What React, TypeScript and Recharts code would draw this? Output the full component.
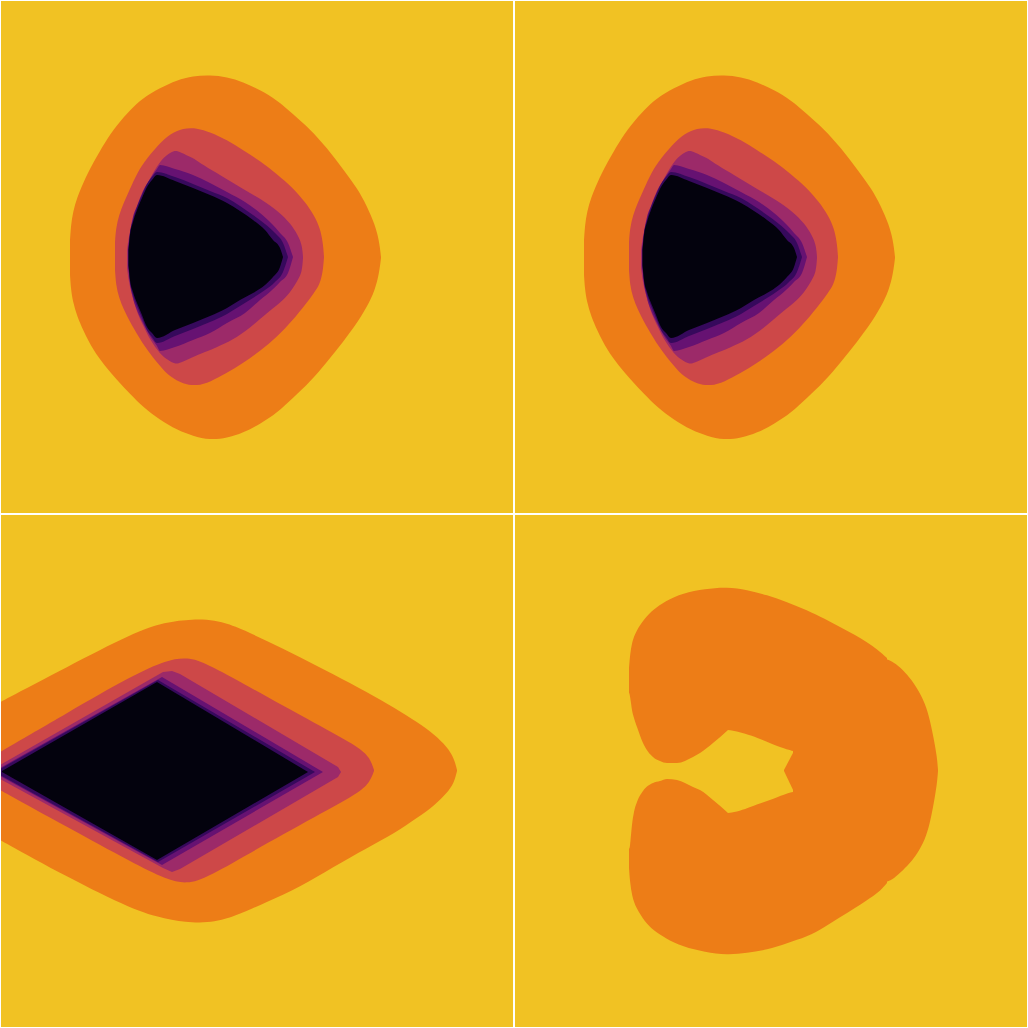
import React from 'react';
import { ComposedChart, Area, XAxis, YAxis } from 'recharts';

// Colours of the filled contour levels (outer to inner)
const YELLOW = '#F1C223';
const ORANGE = '#ED7D17';
const RED = '#CD4848';
const MAGENTA = '#9C2A69';
const PURPLE = '#661272';
const DARK = '#36095C';
const BLACK = '#03020D';

type Row = [number, number, number]; // x, upper y, lower y

// ---- Top panels (both show the same field) ----
const tlOrange: Row[] = [
  [70, 240, 275], [71, 225, 290], [73, 212, 302], [77, 198, 316], [83, 183, 330], [93, 163, 350],
  [105, 142, 366], [117, 125, 380], [130, 110, 394], [143, 98, 407], [160, 88, 420], [177, 80, 430],
  [193, 76, 436], [210, 75, 440], [227, 77, 438], [243, 82, 433], [260, 90, 424], [277, 100, 413],
  [293, 114, 398], [310, 129, 382], [327, 148, 362], [343, 169, 342], [357, 188, 323], [367, 206, 307],
  [375, 225, 290], [379, 240, 274], [381, 257, 258],
];
const tlRed: Row[] = [
  [115, 242, 270], [116, 228, 285], [119, 215, 298], [124, 202, 310], [130, 189, 322], [137, 173, 334],
  [147, 158, 350], [160, 143, 366], [170, 134, 377], [183, 128, 384], [197, 128, 386], [210, 132, 382],
  [227, 140, 373], [243, 150, 363], [260, 161, 351], [277, 174, 337], [293, 188, 320], [305, 202, 305],
  [314, 215, 293], [320, 228, 284], [323, 243, 271], [324, 257, 257],
];
const tlMagenta: Row[] = [
  [127, 250, 268], [129, 235, 283], [132, 225, 295], [137, 208, 313], [143, 193, 325], [150, 178, 340],
  [160, 161, 354], [168, 154, 360], [175, 150, 364], [180, 152, 363], [193, 158, 357], [200, 163, 354],
  [215, 172, 348], [233, 183, 340], [250, 193, 328], [267, 203, 313], [280, 213, 303], [290, 223, 293],
  [298, 235, 280], [302, 245, 272], [303, 257, 258],
];
const tlPurple: Row[] = [
  [128, 252, 263], [130, 233, 283], [133, 217, 298], [137, 206, 310], [143, 191, 323], [150, 179, 336],
  [157, 169, 346], [160, 165, 351], [175, 169, 347], [193, 175, 340], [210, 183, 333], [227, 192, 323],
  [245, 202, 313], [260, 213, 300], [272, 224, 290], [280, 233, 282], [288, 243, 273], [293, 257, 257],
];
const tlDark: Row[] = [
  [128.3, 250, 266], [130, 233, 282], [133, 220, 295], [137, 207, 306], [142, 195, 318], [147, 184, 330],
  [152, 177, 337], [157, 172, 343], [175, 177, 336], [193, 184, 329], [210, 191, 322], [227, 198, 314],
  [240, 206, 306], [253, 215, 298], [265, 224, 290], [275, 233, 282], [283, 243, 272], [288, 257, 257],
];
const tlBlack: Row[] = [
  [128.5, 250, 265], [130, 235, 280], [133, 222, 292], [137, 210, 303], [142, 198, 315], [147, 187, 327],
  [152, 180, 333], [157, 175, 338], [175, 181, 330], [193, 188, 323], [210, 195, 316], [227, 203, 308],
  [240, 211, 300], [253, 220, 293], [265, 230, 285], [273, 240, 277], [280, 248, 267], [283, 257, 257],
];

// ---- Bottom-left panel ----
const blOrange: Row[] = [
  [-5, 705, 837], [0, 702, 840], [67, 667, 877], [133, 633, 910], [165, 622, 919], [193, 619, 923],
  [215, 620, 922], [233, 625, 917], [267, 641, 902], [300, 657, 887], [333, 674, 867], [367, 692, 848],
  [395, 708, 833], [417, 722, 818], [435, 735, 805], [447, 747, 793], [454, 758, 783], [457, 770, 771],
];
const blRed: Row[] = [
  [-5, 755, 787], [0, 752, 790], [67, 713, 827], [133, 675, 863], [167, 660, 880], [187, 657, 884],
  [207, 663, 878], [267, 697, 843], [333, 733, 807], [360, 748, 792], [370, 758, 782], [374, 770, 771],
];
const blMagenta: Row[] = [
  [-5, 767, 777], [0, 765, 779], [163, 672, 868], [172, 671, 872], [180, 674, 869], [338, 767, 777], [341, 772, 772],
];
const blPurple: Row[] = [[-5, 771, 773], [0, 768, 776], [162, 677, 865], [323, 772, 772]];
const blDark: Row[] = [[-3, 771, 773], [0, 769, 775], [158, 680, 862], [315, 772, 772]];
const blBlack: Row[] = [[2, 771, 772], [157, 682, 860], [308, 772, 772]];

// ---- Bottom-right panel ----
const brOrange: Row[] = [
  [629, 668, 868], [630, 655, 882], [632, 642, 896], [636, 631, 908], [645, 618, 922], [653, 610, 930],
  [665, 601, 938], [683, 593, 947], [705, 589, 952], [727, 587, 955], [747, 590, 953], [767, 595, 950],
  [787, 602, 943], [807, 610, 937], [825, 619, 927], [840, 627, 917], [855, 635, 908], [867, 642, 900],
  [878, 650, 893], [887, 658, 883],
];
const brLobe: Row[] = [
  [885, 659, 882], [892, 661, 880], [900, 667, 873], [910, 678, 863], [917, 688, 854], [925, 703, 840],
  [930, 720, 823], [934, 740, 802], [937, 757, 784], [938, 770, 771],
];
const brGapLeft: Row[] = [
  [626, 688, 852], [629.5, 694, 848], [631, 703, 835], [632, 710, 825], [634, 718, 812], [637, 727, 802],
  [643, 743, 791], [653, 757, 783], [660, 761, 781], [667, 763, 779], [677, 763, 780], [693, 757, 787],
  [700, 753, 790], [713, 743, 800], [728, 730, 813],
];
const brGapRight: Row[] = [
  [728, 730, 813], [740, 732, 811], [750, 735, 807], [770, 743, 800], [785, 749, 794], [793, 751, 792],
];
const brSpike: Row[] = [[784, 770, 771], [794, 751, 792]];

type Layer = { rows: Row[]; color: string; curve: 'monotone' | 'linear' | 'basis' };

const topLayers: Layer[] = [
  { rows: tlOrange, color: ORANGE, curve: 'basis' },
  { rows: tlRed, color: RED, curve: 'basis' },
  { rows: tlMagenta, color: MAGENTA, curve: 'basis' },
  { rows: tlPurple, color: PURPLE, curve: 'monotone' },
  { rows: tlDark, color: DARK, curve: 'monotone' },
  { rows: tlBlack, color: BLACK, curve: 'monotone' },
];
const blLayers: Layer[] = [
  { rows: blOrange, color: ORANGE, curve: 'basis' },
  { rows: blRed, color: RED, curve: 'basis' },
  { rows: blMagenta, color: MAGENTA, curve: 'linear' },
  { rows: blPurple, color: PURPLE, curve: 'linear' },
  { rows: blDark, color: DARK, curve: 'linear' },
  { rows: blBlack, color: BLACK, curve: 'linear' },
];
const brLayers: Layer[] = [
  { rows: brOrange, color: ORANGE, curve: 'basis' },
  { rows: brLobe, color: ORANGE, curve: 'basis' },
  { rows: brGapLeft, color: YELLOW, curve: 'monotone' },
  { rows: brGapRight, color: YELLOW, curve: 'basis' },
  { rows: brSpike, color: ORANGE, curve: 'linear' },
];

const toData = (rows: Row[]) => rows.map(([x, a, b]) => ({ x, r: [a, b] }));

const SIZE = 512;

function Panel(props: { left: number; top: number; xDomain: [number, number]; yDomain: [number, number]; layers: Layer[] }) {
  const { left, top, xDomain, yDomain, layers } = props;
  return (
    <div style={{ position: 'absolute', left, top, width: SIZE, height: SIZE, background: YELLOW, overflow: 'hidden' }}>
      <ComposedChart width={SIZE} height={SIZE} margin={{ top: 0, right: 0, bottom: 0, left: 0 }}>
        <XAxis type="number" dataKey="x" domain={xDomain} hide allowDataOverflow />
        <YAxis type="number" domain={yDomain} reversed hide allowDataOverflow />
        {layers.map((l, i) => (
          <Area
            key={i}
            data={toData(l.rows)}
            dataKey="r"
            type={l.curve}
            fill={l.color}
            fillOpacity={1}
            stroke="none"
            dot={false}
            activeDot={false}
            isAnimationActive={false}
          />
        ))}
      </ComposedChart>
    </div>
  );
}

export default function App() {
  return (
    <div style={{ position: 'absolute', left: 0, top: 0, width: 1028, height: 1028, background: '#ffffff' }}>
      <Panel left={1} top={1} xDomain={[1, 513]} yDomain={[1, 513]} layers={topLayers} />
      <Panel left={515} top={1} xDomain={[1, 513]} yDomain={[1, 513]} layers={topLayers} />
      <Panel left={1} top={515} xDomain={[1, 513]} yDomain={[515, 1027]} layers={blLayers} />
      <Panel left={515} top={515} xDomain={[515, 1027]} yDomain={[515, 1027]} layers={brLayers} />
    </div>
  );
}
